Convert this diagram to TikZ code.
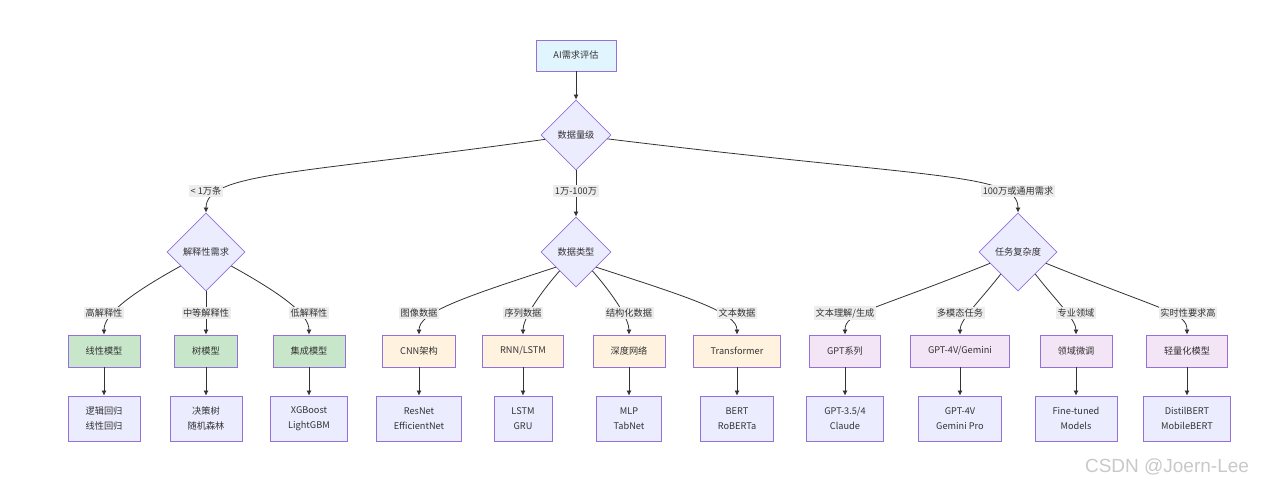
\documentclass[tikz,border=0pt]{standalone}
\usepackage{fontspec}
\setmainfont{Noto Sans CJK SC}
\newfontfamily\wmfont{Liberation Sans}
\usetikzlibrary{shapes.geometric,positioning,arrows.meta}

\definecolor{nodeline}{HTML}{9370DB}
\definecolor{nodefill}{HTML}{ECECFF}
\definecolor{startfill}{HTML}{E1F5FE}
\definecolor{greenfill}{HTML}{C8E6C9}
\definecolor{orangefill}{HTML}{FFF3E0}
\definecolor{pinkfill}{HTML}{F3E5F5}
\definecolor{linkcol}{HTML}{333333}
\definecolor{lblfill}{HTML}{EDEDED}

\tikzset{
  base/.style={draw=nodeline, line width=0.8pt, text=linkcol,
    font=\fontsize{9.2}{15}\selectfont, align=center},
  box/.style={base, rectangle, inner xsep=17.5pt, inner ysep=0pt, minimum height=32pt},
  model/.style={box},
  example/.style={box, fill=nodefill, minimum height=45pt},
  decision/.style={base, diamond, fill=nodefill, inner sep=0pt, minimum size=70pt},
  lbl/.style={fill=lblfill, text=linkcol, inner xsep=1.5pt, inner ysep=2pt,
    font=\fontsize{9.2}{11}\selectfont},
  link/.style={draw=linkcol, line width=0.8pt, -{Latex[length=5pt,width=5pt]}},
}

\begin{document}
\begin{tikzpicture}[x=1pt,y=1pt,node distance=67.5pt,on grid]
    \useasboundingbox[fill=white] (0,0) rectangle (1280,487);

    \node[box, fill=startfill, minimum height=31pt] (start) at (576,431.5) {AI需求评估};
    \node[decision] (vol) at (576,352) {数据量级};
    \node[decision, minimum size=78pt] (expl) at (206,235) {解释性需求};
    \node[decision] (dtype) at (576,235) {数据类型};
    \node[decision, minimum size=78pt] (task) at (1018,235) {任务复杂度};

    % models
    \node[model, fill=greenfill] (lin) at (104,136) {线性模型};
    \node[model, fill=greenfill] (tree) at (206,136) {树模型};
    \node[model, fill=greenfill] (ens) at (309,136) {集成模型};
    \node[model, fill=orangefill] (cnn) at (419,136) {CNN架构};
    \node[model, fill=orangefill] (rnn) at (523,136) {RNN/LSTM};
    \node[model, fill=orangefill] (deep) at (629,136) {深度网络};
    \node[model, fill=orangefill] (trans) at (737,136) {Transformer};
    \node[model, fill=pinkfill] (gpt) at (845,136) {GPT系列};
    \node[model, fill=pinkfill] (mm) at (960,136) {GPT-4V/Gemini};
    \node[model, fill=pinkfill] (dom) at (1076,136) {领域微调};
    \node[model, fill=pinkfill] (lite) at (1187,136) {轻量化模型};

    % examples
    \node[example] (lin-ex) [below = of lin] {逻辑回归\\线性回归};
    \node[example] (tree-ex) [below = of tree] {决策树\\随机森林};
    \node[example] (ens-ex) [below = of ens] {XGBoost\\LightGBM};
    \node[example] (cnn-ex) [below = of cnn] {ResNet\\EfficientNet};
    \node[example] (rnn-ex) [below = of rnn] {LSTM\\GRU};
    \node[example] (deep-ex) [below = of deep] {MLP\\TabNet};
    \node[example] (trans-ex) [below = of trans] {BERT\\RoBERTa};
    \node[example] (gpt-ex) [below = of gpt] {GPT-3.5/4\\Claude};
    \node[example] (mm-ex) [below = of mm] {GPT-4V\\Gemini Pro};
    \node[example] (dom-ex) [below = of dom] {Fine-tuned\\Models};
    \node[example] (lite-ex) [below = of lite] {DistilBERT\\MobileBERT};

    % connectors
    \draw[link] (start) -- (vol);
    \draw[link] (vol) to[out=188,in=90,out distance=250pt,in distance=40pt] (expl);
    \draw[link] (vol) -- (dtype);
    \draw[link] (vol) to[out=-7,in=90,out distance=330pt,in distance=40pt] (task);

    \draw[link] (expl) to[out=209,in=90,out distance=60pt,in distance=20pt] (lin);
    \draw[link] (expl) -- (tree);
    \draw[link] (expl) to[out=-29,in=90,out distance=60pt,in distance=20pt] (ens);

    \draw[link] (dtype.217) to[out=198,in=90,out distance=100pt,in distance=22pt] (cnn);
    \draw[link] (dtype) to[out=229,in=90,out distance=35pt,in distance=15pt] (rnn);
    \draw[link] (dtype) to[out=-49,in=90,out distance=35pt,in distance=15pt] (deep);
    \draw[link] (dtype.-37) to[out=-18,in=90,out distance=100pt,in distance=22pt] (trans);

    \draw[link] (task) to[out=202,in=90,out distance=130pt,in distance=22pt] (gpt);
    \draw[link] (task) to[out=232,in=90,out distance=35pt,in distance=15pt] (mm);
    \draw[link] (task) to[out=-52,in=90,out distance=35pt,in distance=15pt] (dom);
    \draw[link] (task) to[out=-22,in=90,out distance=130pt,in distance=22pt] (lite);

    \foreach \m in {lin,tree,ens,cnn,rnn,deep,trans,gpt,mm,dom,lite}
      \draw[link] (\m) -- (\m-ex);

    % edge labels
    \node[lbl] (l-small) at (206,296) {< 1万条};
    \node[lbl] (l-mid) at (576,296) {1万-100万};
    \node[lbl] (l-big) at (1018,296) {100万或通用需求};
    \node[lbl] (l-high) at (104,174) {高解释性};
    \node[lbl] (l-med) at (206,174) {中等解释性};
    \node[lbl] (l-low) at (309,174) {低解释性};
    \node[lbl] (l-img) at (419,174) {图像数据};
    \node[lbl] (l-seq) at (523,174) {序列数据};
    \node[lbl] (l-tab) at (629,174) {结构化数据};
    \node[lbl] (l-txt) at (737,174) {文本数据};
    \node[lbl] (l-nlu) at (845,174) {文本理解/生成};
    \node[lbl] (l-mm) at (960,174) {多模态任务};
    \node[lbl] (l-dom) at (1076,174) {专业领域};
    \node[lbl] (l-rt) at (1188,174) {实时性要求高};

    \node[text=gray!42, font=\wmfont\fontsize{19}{19}\selectfont] (mark) at (1167,20) {CSDN @Joern-Lee};
\end{tikzpicture}
\end{document}
